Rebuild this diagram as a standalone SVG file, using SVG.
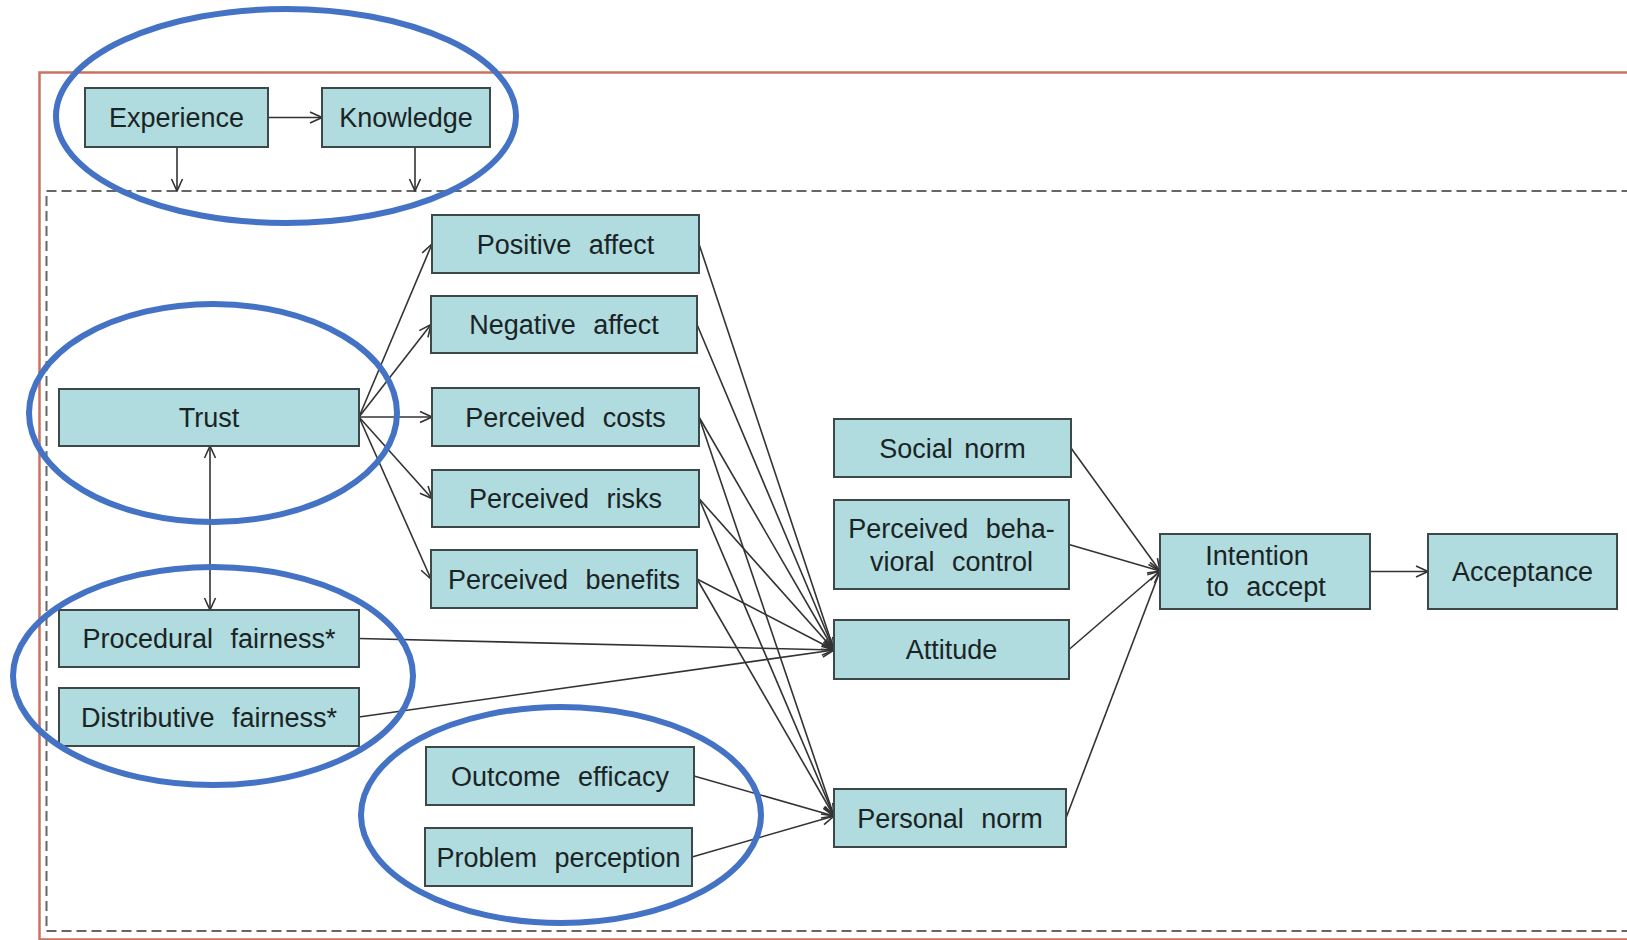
<svg xmlns="http://www.w3.org/2000/svg" width="1627" height="940" viewBox="0 0 1627 940">
<defs>
<style>
.box{fill:#b0dbdf;stroke:#3d4848;stroke-width:2}
.t{font-family:"Liberation Sans",Arial,sans-serif;font-size:27px;fill:#1a2424;text-anchor:middle;word-spacing:10px}
.c{stroke:#333;stroke-width:1.6;fill:none;marker-end:url(#ah)}
.ring{fill:none;stroke:#4472c4;stroke-width:6}
</style>
<marker id="ah" viewBox="0 0 14 14" refX="13" refY="7" markerWidth="14" markerHeight="14" markerUnits="userSpaceOnUse" orient="auto-start-reverse">
<path d="M1,1.5 L13,7 L1,12.5" fill="none" stroke="#333" stroke-width="1.6"/>
</marker>
</defs>
<rect width="1627" height="940" fill="#fff"/>
<rect x="39.5" y="72.5" width="1600" height="867" fill="none" stroke="#c9735f" stroke-width="2.5"/>
<rect x="46.5" y="191" width="1600" height="740" fill="none" stroke="#666" stroke-width="2" stroke-dasharray="10 5"/>

<g id="connectors">
<line class="c" x1="268" y1="117.5" x2="322" y2="117.5"/>
<line class="c" x1="177" y1="147" x2="177" y2="191"/>
<line class="c" x1="415" y1="147" x2="415" y2="191"/>
<line class="c" x1="359" y1="417" x2="432" y2="244"/>
<line class="c" x1="359" y1="417" x2="431" y2="324.5"/>
<line class="c" x1="359" y1="417" x2="432" y2="417"/>
<line class="c" x1="359" y1="417" x2="432" y2="498.5"/>
<line class="c" x1="359" y1="417" x2="431" y2="579"/>
<line class="c" x1="210" y1="446" x2="210" y2="610" style="marker-start:url(#ah)"/>
<line class="c" x1="699" y1="244" x2="834" y2="650"/>
<line class="c" x1="697" y1="324.5" x2="834" y2="650"/>
<line class="c" x1="699" y1="417" x2="834" y2="650"/>
<line class="c" x1="699" y1="417" x2="834" y2="816"/>
<line class="c" x1="699" y1="498.5" x2="834" y2="650"/>
<line class="c" x1="699" y1="498.5" x2="834" y2="816"/>
<line class="c" x1="697" y1="579" x2="834" y2="650"/>
<line class="c" x1="697" y1="579" x2="834" y2="816"/>
<line class="c" x1="359" y1="638.5" x2="834" y2="650"/>
<line class="c" x1="359" y1="717" x2="834" y2="650"/>
<line class="c" x1="694" y1="776" x2="834" y2="816"/>
<line class="c" x1="692" y1="857" x2="834" y2="816"/>
<line class="c" x1="1071" y1="448" x2="1160" y2="571"/>
<line class="c" x1="1069" y1="544.5" x2="1160" y2="571"/>
<line class="c" x1="1069" y1="649.5" x2="1160" y2="571"/>
<line class="c" x1="1066" y1="818" x2="1160" y2="571"/>
<line class="c" x1="1370" y1="571.5" x2="1428" y2="571.5"/>
</g>

<g id="experience"><rect class="box" x="85" y="88" width="183" height="59"/><text class="t" x="176.5" y="127">Experience</text></g>
<g id="knowledge"><rect class="box" x="322" y="88" width="168" height="59"/><text class="t" x="406" y="127">Knowledge</text></g>
<g id="positive-affect"><rect class="box" x="432" y="215" width="267" height="58"/><text class="t" x="565.5" y="253.5">Positive affect</text></g>
<g id="negative-affect"><rect class="box" x="431" y="296" width="266" height="57"/><text class="t" x="564" y="334">Negative affect</text></g>
<g id="perceived-costs"><rect class="box" x="432" y="388" width="267" height="58"/><text class="t" x="565.5" y="426.5">Perceived costs</text></g>
<g id="perceived-risks"><rect class="box" x="432" y="470" width="267" height="57"/><text class="t" x="565.5" y="508">Perceived risks</text></g>
<g id="perceived-benefits"><rect class="box" x="431" y="550" width="266" height="58"/><text class="t" x="564" y="588.5">Perceived benefits</text></g>
<g id="trust"><rect class="box" x="59" y="389" width="300" height="57"/><text class="t" x="209" y="427">Trust</text></g>
<g id="procedural-fairness"><rect class="box" x="59" y="610" width="300" height="57"/><text class="t" x="209" y="648">Procedural fairness*</text></g>
<g id="distributive-fairness"><rect class="box" x="59" y="688" width="300" height="58"/><text class="t" x="209" y="726.5">Distributive fairness*</text></g>
<g id="outcome-efficacy"><rect class="box" x="426" y="747" width="268" height="58"/><text class="t" x="560" y="785.5">Outcome efficacy</text></g>
<g id="problem-perception"><rect class="box" x="425" y="828" width="267" height="58"/><text class="t" x="558.5" y="866.5">Problem perception</text></g>
<g id="social-norm"><rect class="box" x="834" y="419" width="237" height="58"/><text class="t" x="952.5" y="457.5" style="word-spacing:4px">Social norm</text></g>
<g id="pbc"><rect class="box" x="834" y="500" width="235" height="89"/><text class="t" x="951.5" y="538">Perceived beha-</text><text class="t" x="951.5" y="571">vioral control</text></g>
<g id="attitude"><rect class="box" x="834" y="620" width="235" height="59"/><text class="t" x="951.5" y="659">Attitude</text></g>
<g id="personal-norm"><rect class="box" x="834" y="789" width="232" height="58"/><text class="t" x="950" y="827.5">Personal norm</text></g>
<g id="intention"><rect class="box" x="1160" y="534" width="210" height="75"/><text class="t" x="1257" y="565">Intention</text><text class="t" x="1266" y="596">to accept</text></g>
<g id="acceptance"><rect class="box" x="1428" y="534" width="189" height="75"/><text class="t" x="1522.5" y="581">Acceptance</text></g>

<g id="highlights">
<ellipse class="ring" cx="286" cy="116" rx="230" ry="107"/>
<ellipse class="ring" cx="213" cy="413" rx="184" ry="109"/>
<ellipse class="ring" cx="213" cy="676" rx="200" ry="109"/>
<ellipse class="ring" cx="561" cy="815" rx="200" ry="108"/>
</g>
</svg>
